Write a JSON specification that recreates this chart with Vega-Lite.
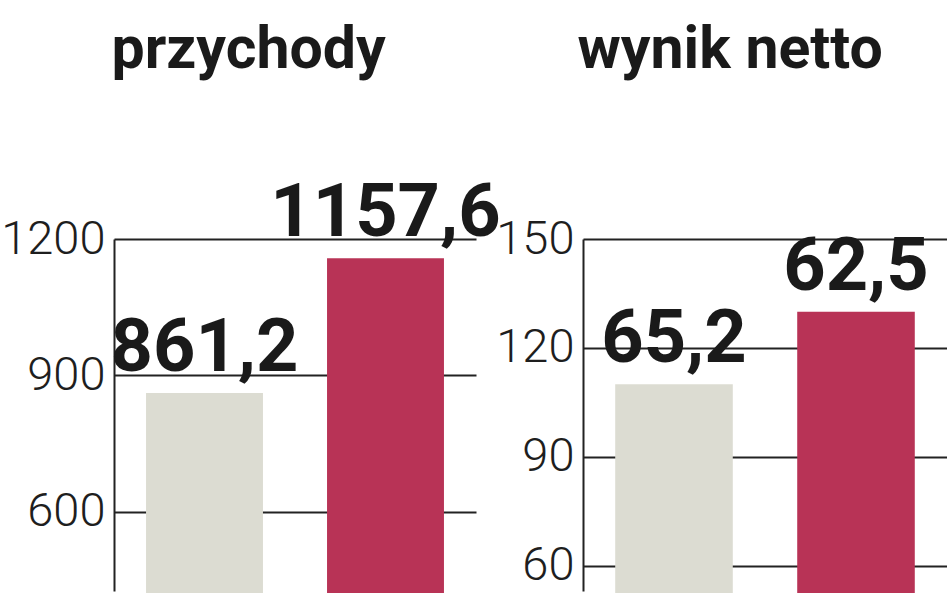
{
  "$schema": "https://vega.github.io/schema/vega-lite/v6.json",
  "background": "white",
  "padding": {"left": 0, "top": 20, "right": 0, "bottom": 0},
  "spacing": 107,
  "bounds": "flush",
  "config": {
    "view": {"stroke": null},
    "font": "Roboto",
    "axisY": {
      "labelFont": "Roboto",
      "labelFontSize": 47,
      "labelFontWeight": 300,
      "labelColor": "#1e1e1e",
      "labelPadding": 9,
      "format": "d",
      "ticks": false,
      "domainColor": "#222222",
      "domainWidth": 2,
      "gridColor": "#222222",
      "gridWidth": 2,
      "gridOpacity": 1,
      "title": null
    },
    "axisX": {
      "orient": "top",
      "labels": false,
      "ticks": false,
      "domain": false,
      "grid": false,
      "titleFont": "Roboto",
      "titleFontSize": 59,
      "titleFontWeight": "bold",
      "titleColor": "#1a1a1a",
      "titleAnchor": "start",
      "titleBaseline": "alphabetic",
      "titlePadding": 172
    }
  },
  "datasets": {
    "przychody": [
      {"okres": "poprzednio", "value": 861.2, "label": "861,2"},
      {"okres": "obecnie", "value": 1157.6, "label": "1157,6"}
    ],
    "wynik": [
      {"okres": "poprzednio", "value": 110, "label": "65,2"},
      {"okres": "obecnie", "value": 130, "label": "62,5"}
    ]
  },
  "hconcat": [
    {
      "width": 362,
      "height": 352,
      "data": {"name": "przychody"},
      "encoding": {
        "x": {
          "field": "okres",
          "type": "nominal",
          "sort": null,
          "scale": {"paddingInner": 0.354, "paddingOuter": 0.177},
          "axis": {"title": "przychody", "titleX": -3}
        },
        "y": {
          "field": "value",
          "type": "quantitative",
          "scale": {"domain": [425, 1200], "zero": false, "nice": false},
          "axis": {"values": [600, 900, 1200], "grid": true}
        }
      },
      "layer": [
        {
          "mark": {"type": "bar"},
          "encoding": {
            "color": {
              "field": "okres",
              "type": "nominal",
              "scale": {"domain": ["poprzednio", "obecnie"], "range": ["#dcdcd2", "#b83356"]},
              "legend": null
            }
          }
        },
        {
          "mark": {"type": "text", "font": "Roboto", "fontWeight": "bold", "fontSize": 74, "color": "#1a1a1a", "baseline": "alphabetic", "align": "center", "dy": -22},
          "encoding": {"text": {"field": "label", "type": "nominal"}}
        }
      ]
    },
    {
      "width": 364,
      "height": 352,
      "data": {"name": "wynik"},
      "encoding": {
        "x": {
          "field": "okres",
          "type": "nominal",
          "sort": null,
          "scale": {"paddingInner": 0.354, "paddingOuter": 0.177},
          "axis": {"title": "wynik netto", "titleX": -6}
        },
        "y": {
          "field": "value",
          "type": "quantitative",
          "scale": {"domain": [53.1, 150], "zero": false, "nice": false},
          "axis": {"values": [60, 90, 120, 150], "grid": true}
        }
      },
      "layer": [
        {
          "mark": {"type": "bar"},
          "encoding": {
            "color": {
              "field": "okres",
              "type": "nominal",
              "scale": {"domain": ["poprzednio", "obecnie"], "range": ["#dcdcd2", "#b83356"]},
              "legend": null
            }
          }
        },
        {
          "mark": {"type": "text", "font": "Roboto", "fontWeight": "bold", "fontSize": 74, "color": "#1a1a1a", "baseline": "alphabetic", "align": "center", "dy": -22},
          "encoding": {"text": {"field": "label", "type": "nominal"}}
        }
      ]
    }
  ]
}
